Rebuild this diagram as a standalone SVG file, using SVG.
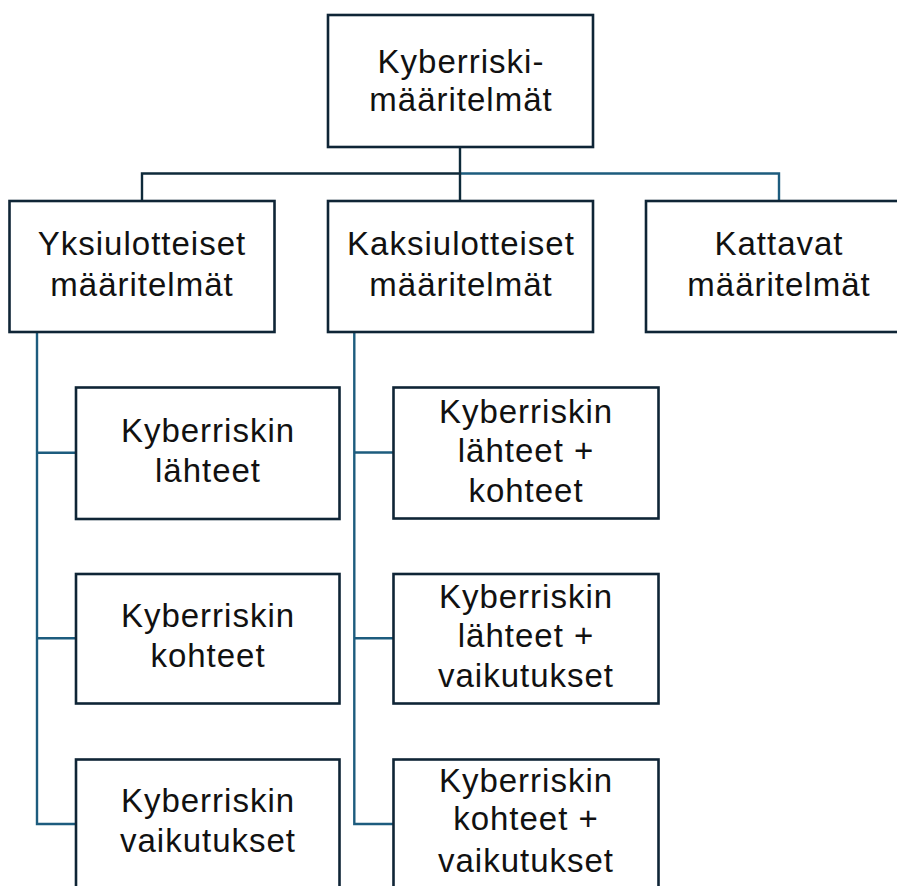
<svg xmlns="http://www.w3.org/2000/svg" width="897" height="886" viewBox="0 0 897 886">
<style>
.box{fill:#ffffff;stroke:#0f2536;stroke-width:2.6}
.t{font-family:"Liberation Sans",Arial,sans-serif;font-size:33px;letter-spacing:1px;fill:#111111;text-anchor:middle}
.cd{fill:none;stroke:#0e2a3a;stroke-width:2.4}
.cb{fill:none;stroke:#1d5c7e;stroke-width:2.4}
</style>
<rect width="897" height="886" fill="#ffffff"/>
<g id="connectors">
<path class="cb" d="M460 173.5 H779 V201"/>
<path class="cd" d="M460 147 V201 M460 173.5 H142 V201"/>
<path class="cb" d="M37 332 V824 H76 M37 452.7 H76 M37 638.3 H76"/>
<path class="cb" d="M354.3 332 V824 H393 M354.3 452.5 H393 M354.3 638.3 H393"/>
</g>
<g id="root">
<rect class="box" x="328" y="15" width="265" height="132"/>
<text class="t" x="461" y="73">Kyberriski-</text>
<text class="t" x="461" y="111">määritelmät</text>
</g>
<g id="yksi">
<rect class="box" x="9.5" y="201" width="265" height="131"/>
<text class="t" x="142" y="255">Yksiulotteiset</text>
<text class="t" x="142" y="296">määritelmät</text>
</g>
<g id="kaksi">
<rect class="box" x="328" y="201" width="265" height="131"/>
<text class="t" x="461" y="255">Kaksiulotteiset</text>
<text class="t" x="461" y="296">määritelmät</text>
</g>
<g id="kattavat">
<rect class="box" x="646" y="201" width="266" height="131"/>
<text class="t" x="779" y="255">Kattavat</text>
<text class="t" x="779" y="296">määritelmät</text>
</g>
<g id="y-lahteet">
<rect class="box" x="76" y="387.5" width="263.5" height="131.5"/>
<text class="t" x="208" y="441.7">Kyberriskin</text>
<text class="t" x="208" y="481.7">lähteet</text>
</g>
<g id="y-kohteet">
<rect class="box" x="76" y="574" width="263.5" height="129.5"/>
<text class="t" x="208" y="626.7">Kyberriskin</text>
<text class="t" x="208" y="666.7">kohteet</text>
</g>
<g id="y-vaikutukset">
<rect class="box" x="76" y="759.5" width="263.5" height="131"/>
<text class="t" x="208" y="811.7">Kyberriskin</text>
<text class="t" x="208" y="851.7">vaikutukset</text>
</g>
<g id="k-lahteet-kohteet">
<rect class="box" x="393.5" y="387.5" width="265" height="131"/>
<text class="t" x="526" y="423.3">Kyberriskin</text>
<text class="t" x="526" y="461.7">lähteet +</text>
<text class="t" x="526" y="501.7">kohteet</text>
</g>
<g id="k-lahteet-vaikutukset">
<rect class="box" x="393.5" y="574" width="265" height="129.5"/>
<text class="t" x="526" y="608.3">Kyberriskin</text>
<text class="t" x="526" y="646.7">lähteet +</text>
<text class="t" x="526" y="686.7">vaikutukset</text>
</g>
<g id="k-kohteet-vaikutukset">
<rect class="box" x="393.5" y="759.5" width="265" height="131"/>
<text class="t" x="526" y="791.7">Kyberriskin</text>
<text class="t" x="526" y="830">kohteet +</text>
<text class="t" x="526" y="871.7">vaikutukset</text>
</g>
</svg>
